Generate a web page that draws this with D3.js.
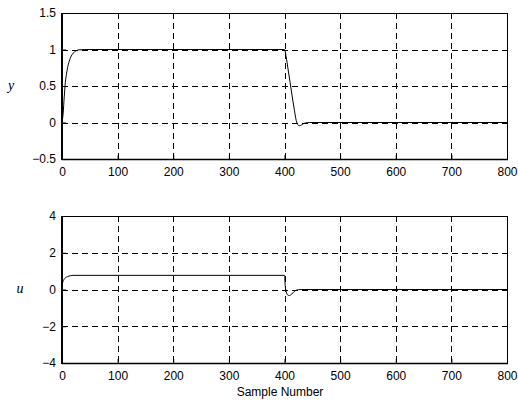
<!DOCTYPE html>
<html>
<head>
<meta charset="utf-8">
<script src="https://cdn.jsdelivr.net/npm/d3@7"></script>
<style>
  body { margin: 0; background: #fff; }
  text { font-family: "Liberation Sans", Arial, sans-serif; font-size: 12px; fill: #000; }
  .lbl { font-family: "Liberation Serif", "Times New Roman", serif; font-style: italic; font-size: 14px; }
</style>
</head>
<body>
<script>
// output y: sample number / value pairs
var ySamples = [0, 2, 4, 6, 8, 10, 13, 16, 20, 25, 30, 40, 400, 403, 406, 410, 414, 418, 421, 424, 427, 431, 436, 445, 800];
var yValues  = [0, 0.12, 0.35, 0.55, 0.66, 0.75, 0.84, 0.9, 0.95, 0.98, 0.995, 1, 1, 0.9, 0.75, 0.55, 0.35, 0.16, 0.03, -0.03, -0.045, -0.03, -0.01, 0, 0];

// control input u
var uSamples = [0, 1, 3, 6, 10, 15, 20, 400, 401, 403, 406, 409, 413, 417, 421, 430, 800];
var uValues  = [0, 0.35, 0.52, 0.63, 0.7, 0.75, 0.77, 0.77, 0.3, -0.1, -0.3, -0.33, -0.25, -0.12, -0.04, 0, 0];

var xTicks = [0, 100, 200, 300, 400, 500, 600, 700, 800];
var yTicks = [-0.5, 0, 0.5, 1, 1.5];
var uTicks = [-4, -2, 0, 2, 4];

var W = 518, H = 403;
var left = 62, right = 507;

var svg = d3.select("body").append("svg")
    .attr("width", W)
    .attr("height", H);

var x = d3.scaleLinear().domain([0, 800]).range([left, right]);

function panel(top, bottom, yDomain, ticks, fmt, xs, vs, name, nameX, nameY) {
  var y = d3.scaleLinear().domain(yDomain).range([bottom, top]);
  var g = svg.append("g");

  // grid
  g.selectAll(".gx").data(xTicks.slice(1, -1)).enter().append("line")
      .attr("x1", function(d) { return Math.round(x(d)) + 0.5; })
      .attr("x2", function(d) { return Math.round(x(d)) + 0.5; })
      .attr("y1", top).attr("y2", bottom)
      .attr("stroke", "#000").attr("stroke-width", 1)
      .attr("stroke-dasharray", "6,4");
  g.selectAll(".gy").data(ticks.slice(1, -1)).enter().append("line")
      .attr("x1", left).attr("x2", right)
      .attr("y1", function(d) { return Math.round(y(d)) + 0.5; })
      .attr("y2", function(d) { return Math.round(y(d)) + 0.5; })
      .attr("stroke", "#000").attr("stroke-width", 1)
      .attr("stroke-dasharray", "6,4");

  // data line
  var line = d3.line()
      .x(function(d, i) { return x(xs[i]); })
      .y(function(d) { return y(d); })
      .curve(d3.curveMonotoneX);
  g.append("path")
      .datum(vs)
      .attr("d", line)
      .attr("fill", "none")
      .attr("stroke", "#000")
      .attr("stroke-width", 1);

  // box
  g.append("rect")
      .attr("x", left + 0.5).attr("y", top + 0.5)
      .attr("width", right - left).attr("height", bottom - top)
      .attr("fill", "none").attr("stroke", "#000").attr("stroke-width", 1);
  g.append("line").attr("x1", left).attr("x2", left).attr("y1", top).attr("y2", bottom + 1)
      .attr("stroke", "#000").attr("stroke-width", 2);
  g.append("line").attr("x1", left).attr("x2", right + 1).attr("y1", bottom + 0.5).attr("y2", bottom + 0.5)
      .attr("stroke", "#000").attr("stroke-width", 1.5);

  // axes (ticks inside)
  var yAxis = d3.axisLeft(y).tickValues(ticks).tickSize(-4).tickPadding(6).tickFormat(fmt);
  var ya = g.append("g").attr("transform", "translate(" + left + ",0)").call(yAxis);
  var xAxis = d3.axisBottom(x).tickValues(xTicks).tickSize(-4).tickPadding(8).tickFormat(d3.format("d"));
  var xa = g.append("g").attr("transform", "translate(0," + bottom + ")").call(xAxis);
  [ya, xa].forEach(function(a) {
    a.select(".domain").remove();
    a.selectAll("line").attr("stroke", "#000");
    a.selectAll("text").style("font-family", "'Liberation Sans', Arial, sans-serif").style("font-size", "12px");
  });

  g.append("text").attr("class", "lbl")
      .attr("x", nameX).attr("y", nameY)
      .attr("text-anchor", "middle")
      .text(name);
}

panel(13, 159, [-0.5, 1.5], yTicks, function(d) { return d3.format("")(d); },
      ySamples, yValues, "y", 11, 90);
panel(216, 363, [-4, 4], uTicks, d3.format("d"),
      uSamples, uValues, "u", 20, 293);

svg.append("text")
    .attr("x", 280).attr("y", 396)
    .attr("text-anchor", "middle")
    .text("Sample Number");
</script>
</body>
</html>
